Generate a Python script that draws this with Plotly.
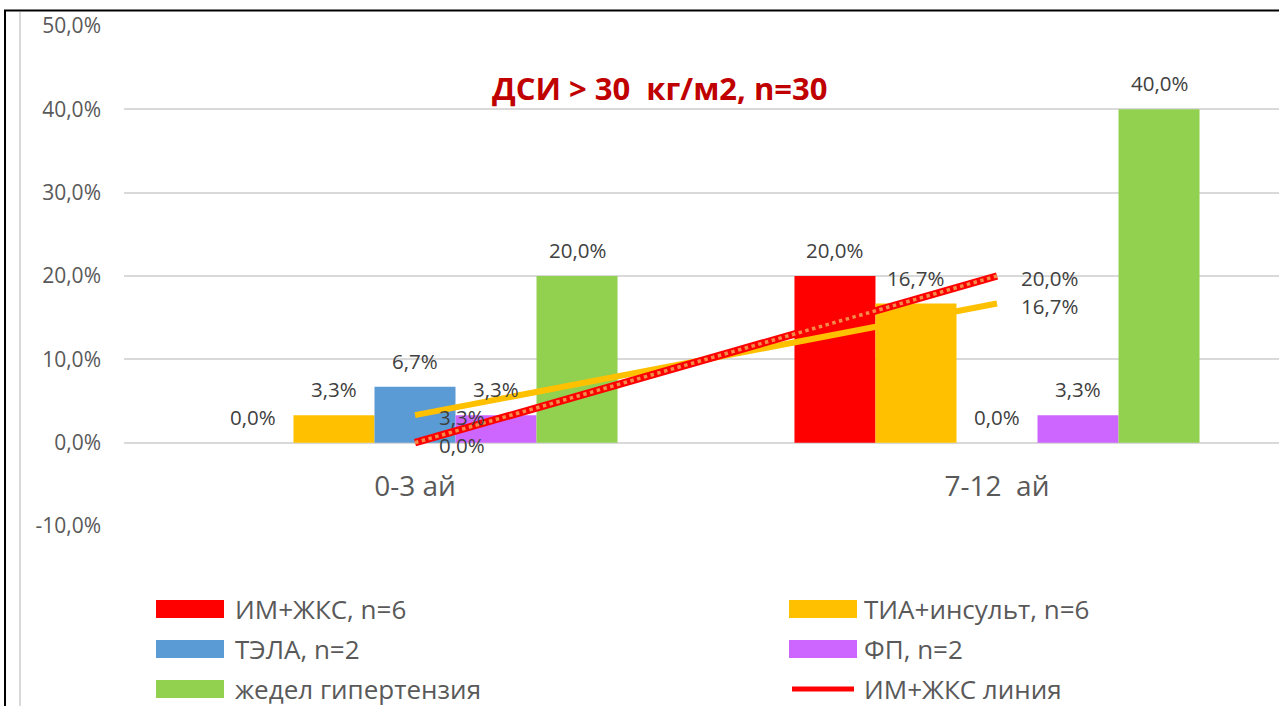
import plotly.graph_objects as go

# ---- data ----
categories = ["0-3 ай", "7-12\u00a0 ай"]
series_names = ["ИМ+ЖКС, n=6", "ТИА+инсульт, n=6", "ТЭЛА, n=2", "ФП, n=2", "жедел гипертензия"]
series_colors = ["#FF0000", "#FFC000", "#5B9BD5", "#CC66FF", "#92D050"]
im_zhks = [0.0, 20.0]
tia_insult = [3.3, 16.7]
tela = [6.7, 0.0]
fp = [3.3, 3.3]
zhedel = [20.0, 40.0]
series_values = [im_zhks, tia_insult, tela, fp, zhedel]

im_line = [0.0, 20.0]
tia_line = [3.3, 16.7]

y_ticks = [-10, 0, 10, 20, 30, 40, 50]
title_text = "ДСИ > 30\u00a0 кг/м2, n=30"

# ---- geometry of the page ----
W, H = 1279, 706
L, R, T, B = 124, 0, 26, 180
PW, PH = W - L - R, H - T - B

def px(xp):
    return (xp - L) / PW

def py(yp):
    return (H - B - yp) / PH

BARGAP = 0.304
NS = len(series_names)
bar_w = (1 - BARGAP) / NS
xs = list(range(len(categories)))

def pct(v):
    return f"{v:.1f}".replace(".", ",") + "%"

LABEL_FONT = dict(family="Open Sans", size=20.5, color="#404040")

fig = go.Figure()

for name, color, vals in zip(series_names, series_colors, series_values):
    fig.add_trace(go.Bar(x=xs, y=vals, name=name, marker=dict(color=color, line_width=0),
                         showlegend=False, hoverinfo="skip"))

# connecting lines between the two periods
fig.add_trace(go.Scatter(x=xs, y=tia_line, mode="lines", line=dict(color="#FFC000", width=6),
                         showlegend=False, hoverinfo="skip"))
fig.add_trace(go.Scatter(x=xs, y=im_line, mode="lines", line=dict(color="#FF0000", width=7.5),
                         showlegend=False, hoverinfo="skip"))
fig.add_trace(go.Scatter(x=xs, y=im_line, mode="lines",
                         line=dict(color="#F28C4A", width=3.5, dash="dot"),
                         showlegend=False, hoverinfo="skip"))

annotations = []
# bar value labels
for i, vals in enumerate(series_values):
    for c, v in zip(xs, vals):
        annotations.append(dict(x=c + (i - (NS - 1) / 2) * bar_w, y=v, xref="x", yref="y",
                                text=pct(v), showarrow=False, yanchor="bottom",
                                yshift=10, font=LABEL_FONT))
# line value labels
for vals in (im_line, tia_line):
    for c, v in zip(xs, vals):
        annotations.append(dict(x=c, y=v, xref="x", yref="y", text=pct(v), showarrow=False,
                                xanchor="left", yanchor="middle", xshift=22, yshift=-2,
                                font=LABEL_FONT))

# title
annotations.append(dict(x=px(660), y=py(88), xref="paper", yref="paper", text=f"<b>{title_text}</b>",
                        showarrow=False, xanchor="center", yanchor="middle",
                        font=dict(family="Open Sans", size=31, color="#C00000")))

# legend drawn as two columns
shapes = []
legend_rows = [609, 649, 689]
legend_cols = [(156, 224, 233), (789, 857, 862)]
legend_items = [
    (0, 0, series_names[0], series_colors[0], "bar"),
    (1, 0, series_names[1], series_colors[1], "bar"),
    (0, 1, series_names[2], series_colors[2], "bar"),
    (1, 1, series_names[3], series_colors[3], "bar"),
    (0, 2, series_names[4], series_colors[4], "bar"),
    (1, 2, "ИМ+ЖКС линия", "#FF0000", "line"),
]
for col, row, label, color, kind in legend_items:
    x0, x1, tx = legend_cols[col]
    yc = legend_rows[row]
    if kind == "bar":
        shapes.append(dict(type="rect", xref="paper", yref="paper", x0=px(x0), x1=px(x1),
                           y0=py(yc - 9), y1=py(yc + 9), fillcolor=color, line_width=0))
    else:
        shapes.append(dict(type="line", xref="paper", yref="paper", x0=px(x0 + 3), x1=px(x1 - 3),
                           y0=py(yc), y1=py(yc), line=dict(color=color, width=5)))
    annotations.append(dict(x=px(tx), y=py(yc), xref="paper", yref="paper", text=label,
                            showarrow=False, xanchor="left", yanchor="middle",
                            font=dict(family="Open Sans", size=26, color="#595959")))

# frame lines around the chart area
shapes.append(dict(type="line", xref="paper", yref="paper", x0=px(5), x1=px(5), y0=py(10), y1=py(706),
                   line=dict(color="#000000", width=2)))
shapes.append(dict(type="line", xref="paper", yref="paper", x0=px(4), x1=px(1279), y0=py(10.5), y1=py(10.5),
                   line=dict(color="#000000", width=2)))
shapes.append(dict(type="line", xref="paper", yref="paper", x0=px(20), x1=px(20), y0=py(12), y1=py(706),
                   line=dict(color="#D9D9D9", width=2)))

fig.update_layout(
    width=W, height=H,
    margin=dict(l=L, r=R, t=T, b=B),
    paper_bgcolor="white", plot_bgcolor="white",
    barmode="group", bargap=BARGAP, bargroupgap=0,
    showlegend=False,
    annotations=annotations, shapes=shapes,
    xaxis=dict(range=[-0.5, -0.5 + PW / 582.0], tickvals=xs, ticktext=categories,
               showgrid=False, zeroline=False, showline=False, ticks="",
               anchor="free", position=(0 - (-10)) / 60.0,
               ticklabelstandoff=24,
               tickfont=dict(family="Open Sans", size=28, color="#595959")),
    yaxis=dict(range=[-10, 50], tickvals=y_ticks, ticktext=[pct(v) for v in y_ticks],
               showgrid=True, gridcolor="#D9D9D9", gridwidth=2, zeroline=False, showline=False,
               ticks="", ticklabelstandoff=22,
               tickfont=dict(family="Open Sans", size=21, color="#595959")),
)

fig.write_html("out.html")
